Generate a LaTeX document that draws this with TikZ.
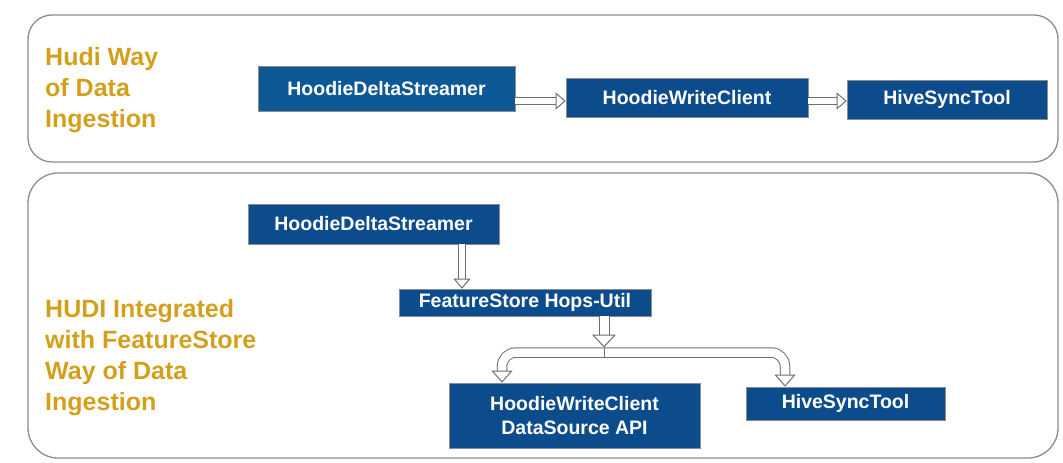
\documentclass[tikz,border=0pt]{standalone}
\usepackage{fontspec}
\setmainfont{Liberation Sans}
\usetikzlibrary{arrows.meta}

\definecolor{boxblue}{HTML}{0C4B8C}
\definecolor{boxlight}{HTML}{0E5896}
\definecolor{labelgold}{HTML}{D4A01C}
\definecolor{panelgray}{HTML}{8C8C8C}
\definecolor{arrowgray}{HTML}{707070}

\tikzset{
  panel/.style={draw=panelgray, line width=1.3pt, rounded corners=24pt},
  bluebox/.style={draw=black!45, line width=0.6pt, fill=boxblue, text=white, inner sep=0pt,
    font=\bfseries\fontsize{19.5}{24}\selectfont, align=center},
  sidelabel/.style={anchor=west, inner sep=0pt, text=labelgold, align=left,
    font=\bfseries\fontsize{25}{31}\selectfont},
  hollowtip/.style={Triangle[fill=white, line width=1pt, length=#1]},
  hollow/.style={draw=arrowgray, line width=1pt, double=white, double distance=6pt,
    -{Triangle[fill=white, line width=1pt, length=10pt, width=17pt]}},
}

\begin{document}
\begin{tikzpicture}[x=1pt,y=1pt,yscale=-1,xscale=1]
	\useasboundingbox (0,0) rectangle (1063,463);
	%Panels
	\draw[panel] (28,15) rectangle (1058,162);
	\draw[panel, rounded corners=30pt] (28,173) rectangle (1058,458);

	% Text Node
	\node[sidelabel] (toplabel) at (45,90) {Hudi Way\\of Data\\Ingestion};
	% Text Node
	\node[sidelabel] (botlabel) at (45,358) {HUDI Integrated\\with FeatureStore\\Way of Data\\Ingestion};

	%Top row
	\node[bluebox, fill=boxlight, minimum width=257pt, minimum height=45pt] (tdelta) at (386.5,88.5) {HoodieDeltaStreamer};
	\node[bluebox, minimum width=242pt, minimum height=39pt] (twrite) at (687,97.5) {HoodieWriteClient};
	\node[bluebox, minimum width=200pt, minimum height=39pt] (thive) at (947,99.5) {HiveSyncTool};
	\coordinate (arrowy) at (0,101);
	\draw[hollow, double distance=5.5pt] (tdelta.east |- arrowy) -- (twrite.west |- arrowy);
	\draw[hollow, double distance=5.5pt] (twrite.east |- arrowy) -- (thive.west |- arrowy);

	%Bottom row
	\node[bluebox, minimum width=251pt, minimum height=40pt] (bdelta) at (373.5,224) {HoodieDeltaStreamer};
	\node[bluebox, minimum width=252pt, minimum height=27pt] (hops) at (525,302.5) {FeatureStore Hops-Util};
	\node[bluebox, minimum width=251pt, minimum height=65pt] (dsapi) at (574.5,415.5) {HoodieWriteClient\\DataSource API};
	\node[bluebox, minimum width=199pt, minimum height=33pt] (bhive) at (845.5,403.5) {HiveSyncTool};

	\draw[hollow] ([xshift=88.5pt]bdelta.south) -- ([xshift=88.5pt]bdelta.south |- hops.north);
	%Split
	\coordinate (split) at (604,352.5);
	\coordinate (splittop) at (604,347.5);
	\coordinate (splitbot) at (604,357.5);
	\draw[hollow, double distance=9pt, -{Triangle[fill=white, line width=1pt, length=13pt, width=24pt]}]
	  (hops.south -| split) -- (splittop);
	\draw[hollow, double distance=8.5pt, rounded corners=14pt,
	  {Triangle[fill=white, line width=1pt, length=12pt, width=21pt]}-{Triangle[fill=white, line width=1pt, length=12pt, width=21pt]}]
	  ([xshift=-72.5pt]dsapi.north) |- (split) -| ([xshift=-60.5pt]bhive.north);
	\draw[draw=arrowgray, line width=1pt] (splittop) -- (splitbot);
\end{tikzpicture}
\end{document}
